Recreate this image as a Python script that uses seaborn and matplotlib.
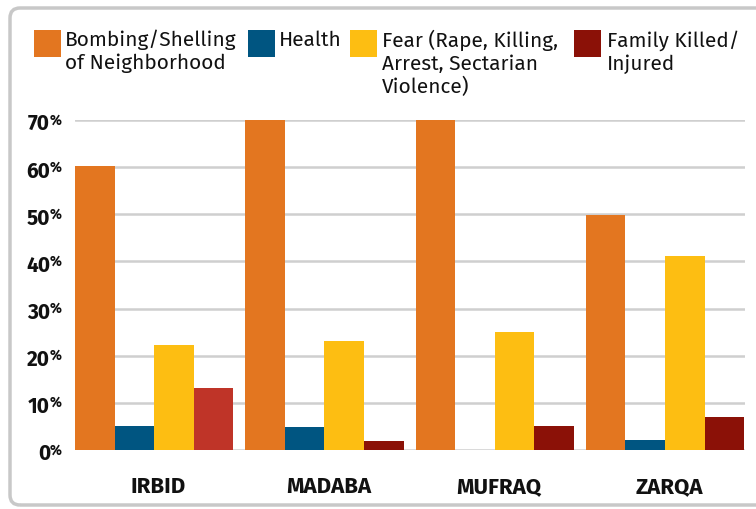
import numpy as np
import pandas as pd
import matplotlib
matplotlib.use("Agg")
import matplotlib.pyplot as plt
import matplotlib.patches as mpatches
import matplotlib.transforms as mtrans
import seaborn as sns

# data
regions = ["IRBID", "MADABA", "MUFRAQ", "ZARQA"]
causes = ["Bombing/Shelling\nof Neighborhood", "Health",
          "Fear (Rape, Killing,\nArrest, Sectarian\nViolence)", "Family Killed/\nInjured"]
bombing = [60.2, 70.0, 70.0, 49.9]
health = [5.1, 4.9, 0.0, 2.1]
fear = [22.3, 23.1, 25.0, 41.2]
family = [13.2, 1.9, 5.1, 7.0]
yticks = [0, 10, 20, 30, 40, 50, 60, 70]

colors = ["#E37620", "#005581", "#FDBE12", "#8B1107"]
irbid_family_color = "#BF3428"

df = pd.DataFrame({
    "region": regions * 4,
    "cause": np.repeat(causes, len(regions)),
    "value": bombing + health + fear + family,
})

sns.set_style("white")
textfam = ["Fira Sans", "Open Sans", "DejaVu Sans"]
plt.rcParams["font.family"] = textfam

fig = plt.figure(figsize=(7.56, 5.09), dpi=100)
W, H = 756, 509
px = mtrans.ScaledTranslation
ax = fig.add_axes([75 / W, 1 - 450 / H, (745 - 75) / W, (450 - 120) / H])

sns.barplot(data=df, x="region", y="value", hue="cause", hue_order=causes,
            order=regions, palette=colors, saturation=1, width=0.93, gap=0,
            ax=ax, legend=False)
ax.containers[3][0].set_facecolor(irbid_family_color)
for bar in ax.patches:
    bar.set_edgecolor("none")

ax.set_xlim(-0.465, 3.47)
ax.set_ylim(0, 70)
ax.set_axisbelow(True)
ax.yaxis.grid(True, color="#cfcfcf", linewidth=1.8)
ax.xaxis.grid(False)
sns.despine(ax=ax, left=True, bottom=True)
ax.set_xlabel("")
ax.set_ylabel("")

# y ticks: bold number with a small raised percent sign
ax.set_yticks(yticks)
ax.set_yticklabels([str(v) for v in yticks], fontsize=15, fontweight="bold",
                   color="#111111")
ax.tick_params(axis="y", length=0, pad=18)
for lab in ax.get_yticklabels():
    lab.set_transform(lab.get_transform() + px(0, -2 / 100, fig.dpi_scale_trans))
for v in yticks:
    ax.annotate("%", xy=(0, v), xycoords=ax.get_yaxis_transform(),
                xytext=(-18, 5), textcoords="offset points", fontsize=10,
                fontweight="bold", ha="left", va="top", color="#111111")

ax.tick_params(axis="x", length=0, pad=19)
for lab in ax.get_xticklabels():
    lab.set_fontsize(16)
    lab.set_fontweight("bold")
    lab.set_color("#111111")
    lab.set_transform(lab.get_transform() + px(4 / 100, 0, fig.dpi_scale_trans))

# legend, laid out by hand
swatch_x = [34, 248, 350, 574]
text_x = [65, 279, 382, 607]
for sx, tx, c, lab in zip(swatch_x, text_x, colors, causes):
    fig.patches.append(mpatches.Rectangle((sx / W, 1 - 57 / H), 27 / W, 27 / H,
                                          transform=fig.transFigure, facecolor=c,
                                          edgecolor="none"))
    fig.text(tx / W, 1 - 30 / H, lab, fontsize=15, va="top", ha="left",
             linespacing=1.2, color="#111111")

# rounded gray frame
frame = mpatches.FancyBboxPatch((0.10, 0.04), 8.0, 4.97,
                                boxstyle="round,pad=0,rounding_size=0.1",
                                transform=fig.dpi_scale_trans, facecolor="none",
                                edgecolor="#c8c8c8", linewidth=2.5)
fig.patches.append(frame)

fig.savefig("out.png", dpi=100)
